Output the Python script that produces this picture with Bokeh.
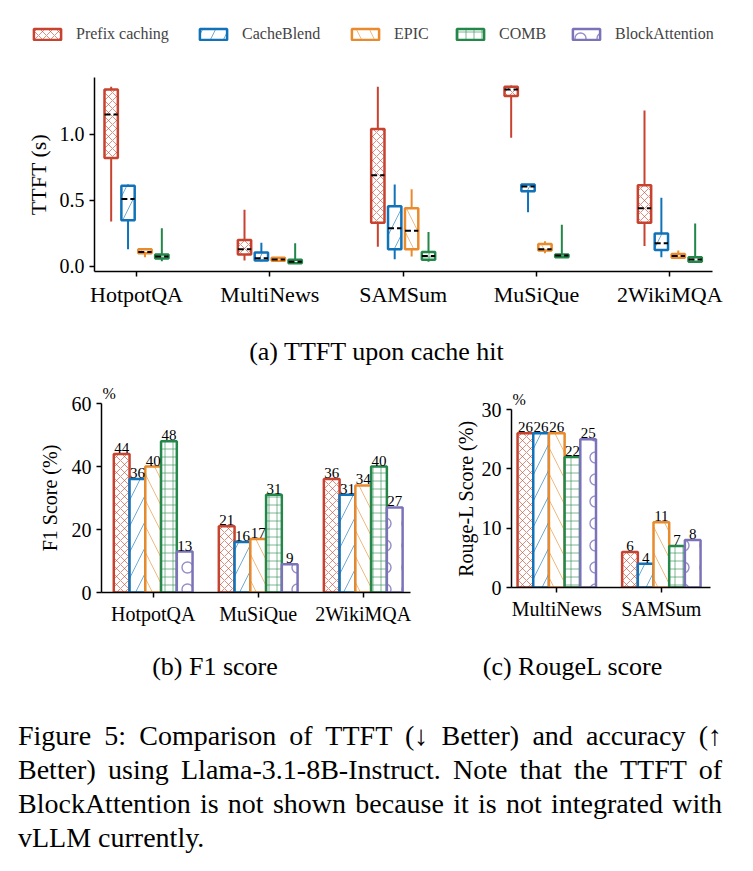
from bokeh.plotting import figure
from bokeh.models import Range1d, FixedTicker, Legend, LegendItem, Div, NumeralTickFormatter
from bokeh.layouts import column, row
from bokeh.embed import file_html
from bokeh.resources import INLINE
from bokeh.core.properties import value

FONT = "Liberation Serif"

# ---- data -------------------------------------------------------------
methods = ["Prefix caching", "CacheBlend", "EPIC", "COMB", "BlockAttention"]
colors = ["#c8432f", "#1072b8", "#e98a2c", "#23874a", "#7b73b9"]
hatches = ["x", "/", "\\", "+", "o"]
hatch_scales = [8, 26, 26, 8, 22]

# TTFT (s) box statistics per dataset (whisker low, q1, median, q3, whisker high)
ttft_datasets = ["HotpotQA", "MultiNews", "SAMSum", "MuSiQue", "2WikiMQA"]
prefix_lo = [0.34, 0.045, 0.15, 0.975, 0.155]
prefix_q1 = [0.82, 0.09, 0.33, 1.29, 0.33]
prefix_med = [1.15, 0.13, 0.69, 1.34, 0.44]
prefix_q3 = [1.34, 0.20, 1.04, 1.36, 0.615]
prefix_hi = [1.36, 0.43, 1.36, 1.37, 1.18]

cacheblend_lo = [0.13, 0.04, 0.055, 0.41, 0.07]
cacheblend_q1 = [0.35, 0.045, 0.13, 0.57, 0.125]
cacheblend_med = [0.51, 0.063, 0.29, 0.605, 0.175]
cacheblend_q3 = [0.61, 0.106, 0.455, 0.62, 0.25]
cacheblend_hi = [0.62, 0.18, 0.62, 0.62, 0.52]

epic_lo = [0.07, 0.04, 0.076, 0.10, 0.06]
epic_q1 = [0.10, 0.043, 0.13, 0.12, 0.066]
epic_med = [0.11, 0.053, 0.27, 0.13, 0.08]
epic_q3 = [0.13, 0.066, 0.44, 0.17, 0.095]
epic_hi = [0.13, 0.07, 0.585, 0.19, 0.12]

comb_lo = [0.04, 0.025, 0.035, 0.07, 0.03]
comb_q1 = [0.06, 0.025, 0.05, 0.07, 0.035]
comb_med = [0.075, 0.035, 0.08, 0.083, 0.053]
comb_q3 = [0.09, 0.05, 0.11, 0.09, 0.07]
comb_hi = [0.29, 0.175, 0.26, 0.315, 0.325]

box_stats = [
    (prefix_lo, prefix_q1, prefix_med, prefix_q3, prefix_hi),
    (cacheblend_lo, cacheblend_q1, cacheblend_med, cacheblend_q3, cacheblend_hi),
    (epic_lo, epic_q1, epic_med, epic_q3, epic_hi),
    (comb_lo, comb_q1, comb_med, comb_q3, comb_hi),
]

# F1 score (%)
f1_datasets = ["HotpotQA", "MuSiQue", "2WikiMQA"]
f1_prefix = [44, 21, 36]
f1_cacheblend = [36, 16, 31]
f1_epic = [40, 17, 34]
f1_comb = [48, 31, 40]
f1_blockattn = [13, 9, 27]
f1_scores = [f1_prefix, f1_cacheblend, f1_epic, f1_comb, f1_blockattn]

# Rouge-L score (%)
rouge_datasets = ["MultiNews", "SAMSum"]
rouge_prefix = [26, 6]
rouge_cacheblend = [26, 4]
rouge_epic = [26, 11]
rouge_comb = [22, 7]
rouge_blockattn = [25, 8]
rouge_scores = [rouge_prefix, rouge_cacheblend, rouge_epic, rouge_comb, rouge_blockattn]

# left edge (px) of each legend entry in the legend strip
legend_x = [30, 196, 348, 453, 569]


def bare(p):
    p.outline_line_color = None
    p.xgrid.visible = False
    p.ygrid.visible = False


def style_axes(p, xsize, ysize, label_size):
    for ax in (p.xaxis[0], p.yaxis[0]):
        ax.axis_line_width = 1.5
        ax.axis_line_color = "black"
        ax.major_tick_line_width = 1.5
        ax.major_tick_line_color = "black"
        ax.major_tick_in = 0
        ax.major_tick_out = 5
        ax.minor_tick_line_color = None
        ax.major_label_text_font = FONT
        ax.major_label_text_color = "black"
        ax.axis_label_text_font = FONT
        ax.axis_label_text_font_style = "normal"
        ax.axis_label_text_color = "black"
        ax.axis_label_text_font_size = label_size
    p.xaxis[0].major_label_text_font_size = xsize
    p.yaxis[0].major_label_text_font_size = ysize


def hatch_kw(j):
    return dict(fill_color="white", line_color=colors[j], line_width=2.5,
                hatch_pattern=hatches[j], hatch_color=colors[j],
                hatch_alpha=0.8 if hatches[j] == "o" else 0.6,
                hatch_scale=hatch_scales[j],
                hatch_weight=1.4 if hatches[j] == "o" else 1.0)


# ---- legend strip ------------------------------------------------------
pl = figure(width=753, height=60, x_range=Range1d(0, 1), y_range=Range1d(0, 1),
            output_backend="svg", toolbar_location=None,
            min_border_left=0, min_border_right=0, min_border_top=0, min_border_bottom=0)
pl.axis.visible = False
bare(pl)
for j, m in enumerate(methods):
    # hidden renderer that only lends its style to the legend entry
    r = pl.vbar(x=list(range(len(f1_datasets))), top=f1_scores[j], width=0.1,
                visible=False, **hatch_kw(j))
    lg = Legend(items=[LegendItem(label=m, renderers=[r])], orientation="horizontal",
                location=(legend_x[j], 16),
                glyph_width=34, glyph_height=14, label_standoff=12, label_height=20,
                label_text_font=FONT, label_text_font_size="16px",
                border_line_color=None, background_fill_alpha=0, padding=0, margin=0)
    pl.add_layout(lg)

# ---- (a) TTFT box plot -----------------------------------------------
pa = figure(width=753, height=260, x_range=Range1d(-0.315, 4.32), y_range=Range1d(-0.038, 1.43),
            output_backend="svg", toolbar_location=None,
            min_border_left=94, min_border_right=41, min_border_top=17, min_border_bottom=49)
bare(pa)
box_offsets = [-0.19, -0.0635, 0.0635, 0.19]
box_w = 0.1
for j, (lo, q1, med, q3, hi) in enumerate(box_stats):
    xs = [i + box_offsets[j] for i in range(len(ttft_datasets))]
    pa.segment(x0=xs, y0=q3, x1=xs, y1=hi, line_color=colors[j], line_width=2)
    pa.segment(x0=xs, y0=lo, x1=xs, y1=q1, line_color=colors[j], line_width=2)
    pa.quad(left=[x - box_w / 2 for x in xs], right=[x + box_w / 2 for x in xs],
            bottom=q1, top=q3, **hatch_kw(j))
    pa.segment(x0=[x - box_w / 2 for x in xs], x1=[x + box_w / 2 for x in xs],
               y0=med, y1=med, line_color="black", line_width=2, line_dash="6 3")
style_axes(pa, "22px", "20px", "22px")
pa.xaxis.ticker = FixedTicker(ticks=list(range(len(ttft_datasets))))
pa.xaxis.major_label_overrides = {i: d for i, d in enumerate(ttft_datasets)}
pa.yaxis.ticker = FixedTicker(ticks=[0.0, 0.5, 1.0])
pa.yaxis.formatter = NumeralTickFormatter(format="0.0")
pa.yaxis.axis_label = "TTFT (s)"
pa.yaxis.axis_label_standoff = 6

cap_a = Div(text='<div style="font-family:\'Liberation Serif\';font-size:26px;color:black;'
                 'text-align:center;width:753px;line-height:64px;">(a) TTFT upon cache hit</div>',
            width=753, height=60, margin=0)


# ---- (b) F1 and (c) Rouge-L bar charts ---------------------------------
def bar_panel(datasets, scores, width, x_range, y_end, yticks, ylabel, borders, standoff):
    left, right, top, bottom = borders
    p = figure(width=width, height=260, x_range=x_range, y_range=Range1d(0, y_end),
               output_backend="svg", toolbar_location=None,
               min_border_left=left, min_border_right=right,
               min_border_top=top, min_border_bottom=bottom)
    bare(p)
    bar_offsets = [-0.3, -0.15, 0.0, 0.15, 0.3]
    for j, vals in enumerate(scores):
        xs = [i + bar_offsets[j] for i in range(len(datasets))]
        p.vbar(x=xs, top=vals, bottom=0, width=0.15, **hatch_kw(j))
    for j, vals in enumerate(scores):
        xs = [i + bar_offsets[j] for i in range(len(datasets))]
        p.text(x=xs, y=vals, text=[str(v) for v in vals], text_align="center",
               text_baseline="bottom", y_offset=-1, text_color="black",
               text_font=value(FONT), text_font_size="15px")
    style_axes(p, "20px", "20px", "20px")
    p.xaxis.ticker = FixedTicker(ticks=list(range(len(datasets))))
    p.xaxis.major_label_overrides = {i: d for i, d in enumerate(datasets)}
    p.yaxis.ticker = FixedTicker(ticks=yticks)
    p.yaxis.axis_label = ylabel
    p.yaxis.axis_label_standoff = standoff
    # unit marker at the top of the value axis
    p.title.text = "%"
    p.title.align = "left"
    p.title.offset = 1
    p.title.standoff = 3
    p.title.text_font = FONT
    p.title.text_font_size = "16px"
    p.title.text_font_style = "normal"
    p.title.text_color = "black"
    return p


pb = bar_panel(f1_datasets, f1_scores, 430, Range1d(-0.492, 2.45), 60, [0, 20, 40, 60],
               "F1 Score (%)", (101, 20, 23, 48), 8)
pc = bar_panel(rouge_datasets, rouge_scores, 323, Range1d(-0.433, 1.47), 30, [0, 10, 20, 30],
               "Rouge-L Score (%)", (81, 43, 29, 53), 2)

cap_b = Div(text='<div style="font-family:\'Liberation Serif\';font-size:26px;color:black;'
                 'text-align:center;width:402px;padding-left:28px;line-height:54px;">(b) F1 score</div>',
            width=430, height=60, margin=0)
cap_c = Div(text='<div style="font-family:\'Liberation Serif\';font-size:26px;color:black;'
                 'text-align:center;width:304px;padding-right:19px;line-height:54px;">(c) RougeL score</div>',
            width=323, height=60, margin=0)

caption = Div(text='<div style="font-family:\'Liberation Serif\';font-size:28px;color:black;'
                   'text-align:justify;width:722px;padding-left:18px;padding-top:19px;line-height:34px;">'
                   'Figure 5: Comparison of TTFT (&darr; Better) and accuracy (&uarr; Better) using '
                   'Llama-3.1-8B-Instruct. Note that the TTFT of BlockAttention is not shown because '
                   'it is not integrated with vLLM currently.</div>',
              width=753, height=171, margin=0)

# each plot sits in its own wrapper so frames are not aligned across plots
legend_strip = column(pl)
bars = row(column(pb), column(pc))
layout = column(legend_strip, pa, cap_a, bars, row(cap_b, cap_c), caption, spacing=0)

open("out.html", "w").write(file_html(layout, INLINE))
